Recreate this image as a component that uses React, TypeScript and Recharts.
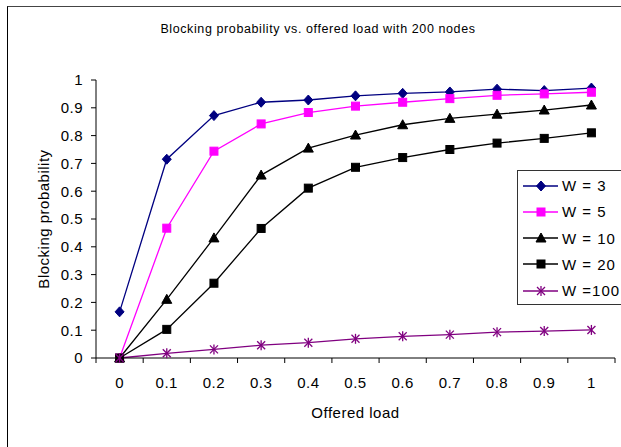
import React from "react";
import { LineChart, Line, XAxis, YAxis, Legend } from "recharts";

// offered load categories
const loads = [0, 0.1, 0.2, 0.3, 0.4, 0.5, 0.6, 0.7, 0.8, 0.9, 1];
const loadLabels = ["0", "0.1", "0.2", "0.3", "0.4", "0.5", "0.6", "0.7", "0.8", "0.9", "1"];
const yTicks = [0, 0.1, 0.2, 0.3, 0.4, 0.5, 0.6, 0.7, 0.8, 0.9, 1];

// blocking probability per wavelength count
const w3 = [0.166, 0.715, 0.872, 0.92, 0.928, 0.943, 0.952, 0.957, 0.967, 0.962, 0.971];
const w5 = [0, 0.467, 0.744, 0.842, 0.883, 0.906, 0.92, 0.933, 0.945, 0.95, 0.956];
const w10 = [0, 0.211, 0.432, 0.658, 0.755, 0.802, 0.839, 0.862, 0.877, 0.892, 0.91];
const w20 = [0, 0.103, 0.269, 0.466, 0.611, 0.686, 0.721, 0.75, 0.773, 0.79, 0.81];
const w100 = [0, 0.017, 0.031, 0.046, 0.055, 0.069, 0.078, 0.084, 0.093, 0.097, 0.101];

const data = loads.map((x, i) => ({
  x,
  w3: w3[i],
  w5: w5[i],
  w10: w10[i],
  w20: w20[i],
  w100: w100[i],
}));

const FONT = "'Liberation Sans', Arial, sans-serif";
const W = 621;
const H = 447;
const margin = { top: 80, right: 6, bottom: 29, left: 0 };
const Y_W = 96;
const plotW = W - margin.left - margin.right - Y_W;
const halfBand = (plotW * 0.05) / 1.1;

type Shape = "diamond" | "square" | "triangle" | "star";

function Marker({ cx, cy, shape, color }: { cx: number; cy: number; shape: Shape; color: string }) {
  if (cx == null || cy == null) return null;
  if (shape === "diamond")
    return <path d={`M${cx},${cy - 5}L${cx + 4.5},${cy}L${cx},${cy + 5}L${cx - 4.5},${cy}Z`} fill={color} stroke={color} />;
  if (shape === "square")
    return <rect x={cx - 4} y={cy - 4} width={8} height={8} fill={color} stroke={color} />;
  if (shape === "triangle")
    return <path d={`M${cx},${cy - 5}L${cx + 5},${cy + 4}L${cx - 5},${cy + 4}Z`} fill={color} stroke={color} />;
  return (
    <g stroke={color} strokeWidth={1.3}>
      <line x1={cx - 4} y1={cy - 4} x2={cx + 4} y2={cy + 4} />
      <line x1={cx - 4} y1={cy + 4} x2={cx + 4} y2={cy - 4} />
      <line x1={cx} y1={cy - 5} x2={cx} y2={cy + 5} />
    </g>
  );
}

const series: { key: string; name: string; color: string; shape: Shape }[] = [
  { key: "w3", name: "W = 3", color: "#000080", shape: "diamond" },
  { key: "w5", name: "W = 5", color: "#FF00FF", shape: "square" },
  { key: "w10", name: "W = 10", color: "#000000", shape: "triangle" },
  { key: "w20", name: "W = 20", color: "#000000", shape: "square" },
  { key: "w100", name: "W =100", color: "#800080", shape: "star" },
];

const textStyle = { fontFamily: FONT, fontSize: 15, fill: "#000", letterSpacing: 0.5 };

function XTick(props: any) {
  const { x, y, payload, index } = props;
  const i = loads.indexOf(payload.value);
  return (
    <g>
      <line x1={x - halfBand} y1={y} x2={x - halfBand} y2={y + 5} stroke="#000" />
      {index === loads.length - 1 && <line x1={x + halfBand} y1={y} x2={x + halfBand} y2={y + 5} stroke="#000" />}
      <text x={x} y={y + 30} textAnchor="middle" style={textStyle}>
        {loadLabels[i] ?? payload.value}
      </text>
    </g>
  );
}

function LegendBox() {
  return (
    <div style={{ border: "1px solid #333", background: "#fff", width: 120, height: 135, boxSizing: "border-box", paddingTop: 1.5 }}>
      {series.map((s) => (
        <div key={s.key} style={{ display: "flex", alignItems: "center", height: 26.25 }}>
          <svg width={42} height={14} style={{ flex: "none" }}>
            <line x1={5} y1={7} x2={40} y2={7} stroke={s.color} strokeWidth={1.3} />
            <Marker cx={23} cy={7} shape={s.shape} color={s.color} />
          </svg>
          <span style={{ fontFamily: FONT, fontSize: 15, letterSpacing: 1, color: "#000", marginLeft: 2, whiteSpace: "pre" }}>{s.name}</span>
        </div>
      ))}
    </div>
  );
}

export default function App() {
  return (
    <div style={{ position: "relative", width: W, height: H, overflow: "hidden", background: "#fff" }}>
      <style>{"body{margin:0}"}</style>
      <div style={{ position: "absolute", left: 7, top: 6, width: 700, height: 500, borderTop: "1.5px solid #444", borderLeft: "1px solid #000" }} />
      <div style={{ position: "absolute", left: 0, top: 21, width: 636, textAlign: "center", fontFamily: FONT, fontSize: 12.5, letterSpacing: 0.6, lineHeight: "16px", color: "#000" }}>
        Blocking probability vs. offered load with 200 nodes
      </div>
      <div style={{ position: "absolute", left: 0, top: 0 }}>
        <LineChart width={W} height={H} data={data} margin={margin}>
          <XAxis
            dataKey="x"
            type="number"
            domain={[-0.05, 1.05]}
            ticks={loads}
            interval={0}
            tickLine={false}
            tickSize={0}
            tickMargin={0}
            height={60}
            axisLine={{ stroke: "#000" }}
            tick={<XTick />}
            label={{
              content: (p: any) => {
                const vb = p.viewBox || { x: 96, y: 358, width: 519 };
                return (
                  <text x={vb.x + vb.width / 2} y={vb.y + 54} textAnchor="middle" dominantBaseline="central" style={textStyle}>
                    Offered load
                  </text>
                );
              },
            }}
          />
          <YAxis
            type="number"
            domain={[0, 1]}
            ticks={yTicks}
            interval={0}
            width={Y_W}
            tickSize={5}
            tickMargin={8}
            axisLine={{ stroke: "#000" }}
            tickLine={{ stroke: "#000" }}
            tick={textStyle}
            label={{
              content: (p: any) => {
                const vb = p.viewBox || { x: 0, y: 80, height: 278 };
                const cx = vb.x + 43;
                const cy = vb.y + vb.height / 2;
                return (
                  <text x={cx} y={cy} transform={`rotate(-90 ${cx} ${cy})`} textAnchor="middle" dominantBaseline="central" style={textStyle}>
                    Blocking probability
                  </text>
                );
              },
            }}
          />
          <Legend
            layout="vertical"
            align="center"
            verticalAlign="middle"
            content={() => <LegendBox />}
            wrapperStyle={{ position: "absolute", left: 517, top: 170, width: 120 }}
          />
          {series.map((s) => (
            <Line
              key={s.key}
              dataKey={s.key}
              name={s.name}
              stroke={s.color}
              strokeWidth={1.3}
              isAnimationActive={false}
              dot={(p: any) => <Marker key={`${s.key}-${p.index}`} cx={p.cx} cy={p.cy} shape={s.shape} color={s.color} />}
              activeDot={false}
            />
          ))}
        </LineChart>
      </div>
    </div>
  );
}
